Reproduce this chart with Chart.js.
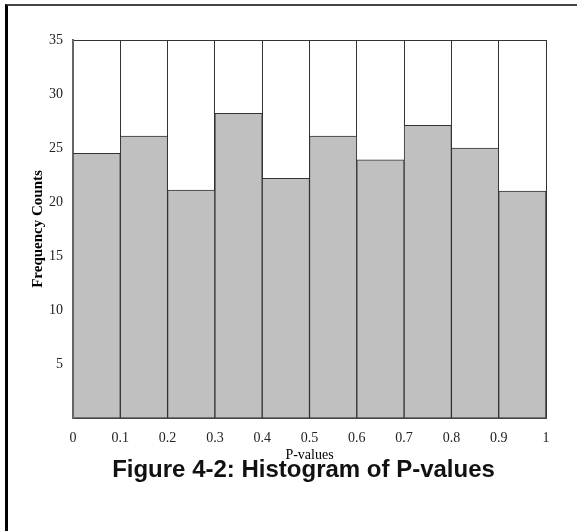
<!DOCTYPE html>
<html>
<head>
<meta charset="utf-8">
<script src="https://cdn.jsdelivr.net/npm/chart.js@4/dist/chart.umd.min.js"></script>
<style>
  html, body { margin: 0; padding: 0; background: #fff; }
  #wrap { position: relative; width: 577px; height: 531px; overflow: hidden; }
  #c { position: absolute; left: 0; top: 0; }
  #frame { position: absolute; left: 5px; top: 4px; right: -10px; bottom: -10px;
           border-top: 2px solid #444; border-left: 3px solid #000; pointer-events: none; }
  #caption { position: absolute; left: 0; top: 455px; width: 607px; text-align: center;
             font: bold 24px "Liberation Sans", Arial, sans-serif; color: #111; line-height: 28px; }
</style>
</head>
<body>
<div id="wrap">
  <canvas id="c" width="577" height="531"></canvas>
  <div id="frame"></div>
  <div id="caption">Figure 4-2: Histogram of P-values</div>
</div>
<script>
const binEdges = [0, 0.1, 0.2, 0.3, 0.4, 0.5, 0.6, 0.7, 0.8, 0.9, 1];
const counts = [24.5, 26.1, 21.1, 28.2, 22.2, 26.1, 23.9, 27.1, 25.0, 21.0];
const yTicks = [0, 5, 10, 15, 20, 25, 30, 35];
const xTitle = 'P-values';
const yTitle = 'Frequency Counts';

const points = counts.map((c, i) => ({ x: (binEdges[i] + binEdges[i + 1]) / 2, y: c }));

new Chart(document.getElementById('c'), {
  type: 'bar',
  data: {
    datasets: [{
      data: points,
      backgroundColor: '#c0c0c0',
      borderColor: '#333',
      borderWidth: 1,
      borderSkipped: 'start',
      barPercentage: 1,
      categoryPercentage: 1
    }]
  },
  options: {
    responsive: false,
    animation: false,
    devicePixelRatio: 1,
    layout: { padding: { top: 40, right: 31, left: 0, bottom: 0 } },
    plugins: { legend: { display: false }, tooltip: { enabled: false } },
    scales: {
      x: {
        type: 'linear',
        min: binEdges[0],
        max: binEdges[binEdges.length - 1],
        offset: false,
        afterBuildTicks: (s) => { s.ticks = binEdges.map(v => ({ value: v })); },
        afterFit: (s) => { s.height = 113; },
        ticks: {
          padding: 12,
          maxRotation: 0,
          autoSkip: false,
          color: '#222',
          font: { family: '"Liberation Serif", "Times New Roman", serif', size: 14 },
          callback: (v) => String(+(+v).toFixed(1))
        },
        grid: { offset: false, drawTicks: false, color: '#333', lineWidth: 1 },
        border: { display: true, color: '#444', width: 2 },
        title: {
          display: true,
          text: xTitle,
          color: '#000',
          font: { family: '"Liberation Serif", "Times New Roman", serif', size: 14 },
          padding: { top: 0, bottom: 67 }
        }
      },
      y: {
        min: yTicks[0],
        max: yTicks[yTicks.length - 1],
        afterBuildTicks: (s) => { s.ticks = yTicks.map(v => ({ value: v })); },
        afterFit: (s) => { s.width = 73; },
        ticks: {
          padding: 10,
          color: '#222',
          font: { family: '"Liberation Serif", "Times New Roman", serif', size: 14 },
          callback: (v) => (v === 0 ? '' : String(v))
        },
        grid: {
          drawTicks: false,
          color: (ctx) => (ctx.tick && ctx.tick.value === yTicks[yTicks.length - 1] ? '#333' : 'rgba(0,0,0,0)'),
          lineWidth: 1
        },
        border: { display: true, color: '#666', width: 2 },
        title: {
          display: true,
          text: yTitle,
          color: '#000',
          font: { family: '"Liberation Serif", "Times New Roman", serif', size: 15, weight: 'bold' },
          padding: { top: 29, bottom: 0 }
        }
      }
    }
  }
});
</script>
</body>
</html>
